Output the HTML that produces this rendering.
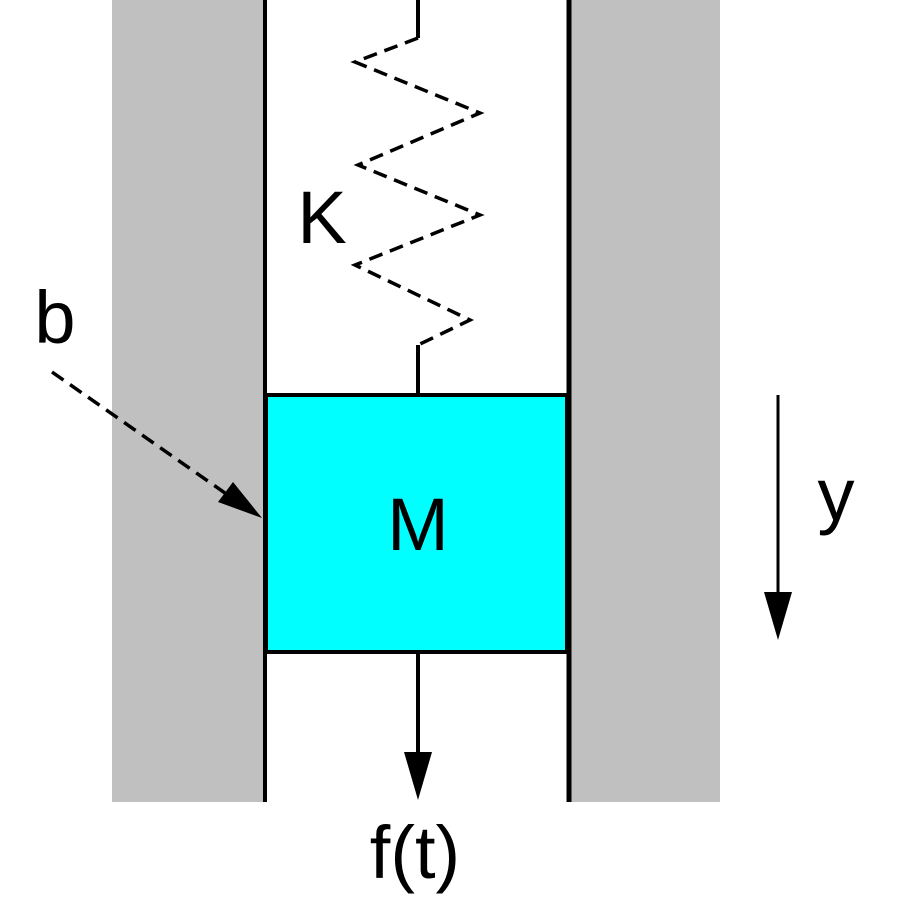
<!DOCTYPE html>
<html><head><style>body{margin:0;background:#fff}</style></head><body>
<svg width="900" height="900" viewBox="0 0 900 900" xmlns="http://www.w3.org/2000/svg">
<rect x="112" y="0" width="153" height="802" fill="#c0c0c0"/>
<rect x="570" y="0" width="150" height="802" fill="#c0c0c0"/>
<rect x="265" y="0" width="305" height="802" fill="#fff"/>
<line x1="265" y1="0" x2="265" y2="802" stroke="#000" stroke-width="4"/>
<line x1="569" y1="0" x2="569" y2="802" stroke="#000" stroke-width="5"/>
<line x1="418" y1="0" x2="418" y2="38" stroke="#000" stroke-width="4"/>
<polyline points="418,38 355,62 480,113 358,165 480,215 355,265 470,320 418,345" fill="none" stroke="#000" stroke-width="3.5" stroke-dasharray="14,8"/>
<line x1="418" y1="345" x2="418" y2="395" stroke="#000" stroke-width="4"/>
<rect x="266" y="395" width="301" height="257" fill="#00ffff" stroke="#000" stroke-width="4"/>
<text x="418" y="550" font-family="Liberation Sans, sans-serif" font-size="74" text-anchor="middle">M</text>
<text x="322" y="243" font-family="Liberation Sans, sans-serif" font-size="74" text-anchor="middle">K</text>
<text x="55" y="343" font-family="Liberation Sans, sans-serif" font-size="74" text-anchor="middle">b</text>
<line x1="52" y1="372" x2="235" y2="500" stroke="#000" stroke-width="3.5" stroke-dasharray="14,8"/>
<polygon points="262,518 218,502 233,482" fill="#000"/>
<line x1="418" y1="652" x2="418" y2="760" stroke="#000" stroke-width="4"/>
<polygon points="404,752 432,752 418,800" fill="#000"/>
<text x="415" y="878" font-family="Liberation Sans, sans-serif" font-size="74" text-anchor="middle">f(t)</text>
<line x1="778" y1="395" x2="778" y2="600" stroke="#000" stroke-width="3"/>
<polygon points="764,592 792,592 778,640" fill="#000"/>
<text x="836" y="520" font-family="Liberation Sans, sans-serif" font-size="74" text-anchor="middle">y</text>
</svg>
</body></html>
